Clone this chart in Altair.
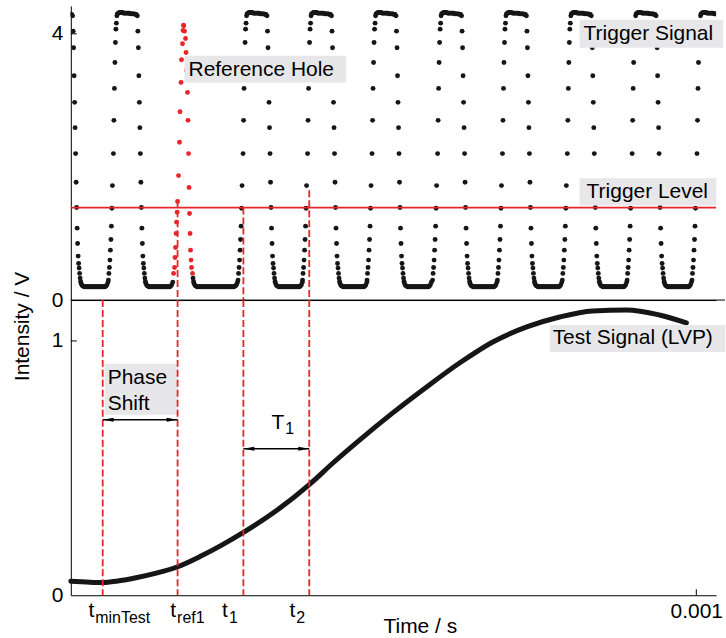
import altair as alt
import pandas as pd

FONT = "Liberation Sans"
INK = "#161616"
RED = "#e8262a"
BOXFILL = "#e7e7e9"

W = 647
H_TOP = 295
H_BOT = 296
X_MAX = 0.0010315          # s
Y_TOP_MAX = 4.42           # V
Y_BOT_MAX = 1.1608         # V
US = 1e-6

# ---------------- Trigger signal (top panel) ----------------
# start times (µs) of the flat top of every regular pulse
PULSE_TOPS_US = [-29.0, 74.5, 281.8, 384.9, 488.0, 592.8, 696.5, 800.2, 903.8, 1007.5]
PULSE_DT_US = [
    -14.4, -13.6, -12.8, -12.0, -11.2, -10.4, -9.6, -8.8, -8.0, -6.4, -5.6, -4.8, -4.0, -3.2, -2.4, -1.6, -0.8, 0.0,
    1.6, 3.2, 4.8, 6.4, 8.0, 9.6, 11.2, 12.8, 14.4, 16.0, 17.5, 19.1, 20.7, 22.3, 23.9, 25.5, 27.1, 28.7, 30.3,
    31.9, 32.7, 33.5, 34.3, 35.1, 35.9, 36.7, 37.5, 38.3, 39.1, 39.9, 40.7, 41.5, 42.3, 43.1, 43.9, 44.7, 45.5, 47.0,
    48.6, 50.2, 51.8, 53.4, 55.0, 56.6, 58.2, 59.8, 61.4, 63.0, 64.6, 66.2, 67.8, 69.4, 71.0, 72.6, 74.2, 75.8,
    77.4, 79.0, 80.6, 82.2, 83.8, 85.3, 86.9, 88.5,
]
PULSE_V = [
    0.30, 0.40, 0.49, 0.60, 0.75, 0.91, 1.11, 1.38, 1.72, 2.20, 2.70, 3.18, 3.57, 3.87, 4.07, 4.16, 4.27, 4.30,
    4.31, 4.32, 4.32, 4.32, 4.32, 4.31, 4.31, 4.31, 4.31, 4.31, 4.31, 4.31, 4.30, 4.30, 4.30, 4.30, 4.30, 4.29, 4.29,
    4.27, 4.04, 3.79, 3.37, 2.97, 2.59, 2.20, 1.77, 1.39, 1.08, 0.85, 0.66, 0.55, 0.48, 0.40, 0.33, 0.28, 0.25, 0.22,
    0.21, 0.20, 0.20, 0.20, 0.20, 0.20, 0.20, 0.20, 0.20, 0.20, 0.20, 0.20, 0.20, 0.20, 0.20, 0.20, 0.20, 0.20,
    0.20, 0.20, 0.20, 0.20, 0.20, 0.21, 0.23, 0.27,
]
# black low level after the reference hole (absolute µs, V)
HOLE_T_US = [
    195.4, 196.2, 197.0, 198.6, 200.2, 201.8, 203.4, 205.0, 206.6, 208.2, 209.8, 211.4, 213.0, 214.6, 216.2,
    217.8, 219.4, 221.0, 222.6, 224.2, 225.8, 227.4, 229.0, 230.6, 232.2, 233.8, 235.4, 237.0, 238.6, 240.2,
    241.8, 243.4, 245.0, 246.6, 248.2, 249.8, 251.4, 253.0, 254.6, 256.2, 257.8, 259.4, 261.0, 262.6, 264.0,
    265.4, 266.6,
]
HOLE_V = [
    0.33, 0.28, 0.25, 0.22, 0.21, 0.20, 0.20, 0.20, 0.20, 0.20, 0.20, 0.20, 0.20, 0.20, 0.20,
    0.20, 0.20, 0.20, 0.20, 0.20, 0.20, 0.20, 0.20, 0.20, 0.20, 0.20, 0.20, 0.20, 0.20, 0.20,
    0.20, 0.20, 0.20, 0.20, 0.20, 0.20, 0.20, 0.20, 0.20, 0.20, 0.20, 0.20, 0.20, 0.21, 0.22,
    0.24, 0.27,
]
# red reference-hole pulse
REF_T_US = [164.3, 165.9, 166.7, 167.5, 168.3, 169.1, 170.0, 170.7, 172.2, 173.8, 174.6, 176.2, 177.0, 178.6,
            179.4, 180.2, 180.6,
            181.8, 183.4, 184.2, 185.0, 186.6, 187.4, 188.2, 189.0, 189.8, 190.6, 191.4, 192.2, 193.0, 194.6]
REF_V = [0.40, 0.49, 0.64, 0.79, 1.00, 1.17, 1.32, 1.48, 1.87, 2.37, 2.83, 3.27, 3.61, 3.85,
         4.05, 4.13, 4.12,
         4.04, 3.93, 3.72, 3.45, 3.12, 2.70, 2.20, 1.69, 1.30, 1.00, 0.75, 0.60, 0.49, 0.40]
TRIGGER_LEVEL = 1.39

# ---------------- Test signal (bottom panel) ----------------
TEST_T_US = [0, 25, 51, 75, 100.5, 135, 170.7, 207.3, 242, 275.9, 330, 381.2, 420, 462.5, 515.2,
             569.4, 622.0, 674.6, 728.9, 781.5, 834.1, 888.3, 941.0, 984.1]
TEST_V = [0.055, 0.052, 0.050, 0.056, 0.067, 0.086, 0.112, 0.153, 0.198, 0.247, 0.335, 0.435, 0.522, 0.612,
          0.718, 0.820, 0.914, 0.996, 1.055, 1.094, 1.118, 1.122, 1.102, 1.071]

# ---------------- markers ----------------
MARKER_SUBS = ["minTest", "ref1", "1", "2"]
MARKER_T_US = [51.0, 170.7, 275.9, 381.2]
MARKER_TOP_START_V = [1.50, 1.39, 1.65]      # for ref1, 1, 2 in the top panel
MARKER_LABEL_T_US = [37.5, 168.3, 251.2, 358.9]

# ---------------- assemble tables ----------------
trig_t, trig_v = [], []
for top in PULSE_TOPS_US:
    for dt, v in zip(PULSE_DT_US, PULSE_V):
        trig_t.append((top + dt) * US)
        trig_v.append(v)
for t, v in zip(HOLE_T_US, HOLE_V):
    trig_t.append(t * US)
    trig_v.append(v)
trig_df = pd.DataFrame({"t": trig_t, "v": trig_v})
ref_df = pd.DataFrame({"t": [t * US for t in REF_T_US], "v": REF_V})
test_df = pd.DataFrame({"t": [t * US for t in TEST_T_US], "v": TEST_V})
one = pd.DataFrame({"a": [0]})

xscale = alt.Scale(domain=[0, X_MAX], nice=False, zero=False)
ys_top = alt.Scale(domain=[0, Y_TOP_MAX], nice=False, zero=False)
ys_bot = alt.Scale(domain=[0, Y_BOT_MAX], nice=False, zero=False)


def X(f="t"):
    return alt.X(f"{f}:Q", scale=xscale)


def YT(f="v"):
    return alt.Y(f"{f}:Q", scale=ys_top)


def YB(f="v"):
    return alt.Y(f"{f}:Q", scale=ys_bot)


txt = dict(font=FONT, fontSize=21, color="black")
DOT = 24

# ---------- top panel ----------
top_xaxis = alt.Axis(labels=False, ticks=False, title=None, grid=False, domainColor="black", domainWidth=1)
top_yaxis = alt.Axis(values=[0, 4], format="d", ticks=False, title=None, grid=False, labelPadding=8,
                     labelFontSize=21, labelFont=FONT, labelColor="black", domainColor="black", domainWidth=1,
                     labelFlush=False)

dots = alt.Chart(trig_df).mark_circle(size=DOT, color=INK, opacity=1, clip=True).encode(
    x=alt.X("t:Q", scale=xscale, axis=top_xaxis),
    y=alt.Y("v:Q", scale=ys_top, axis=top_yaxis),
)
red_dots = alt.Chart(ref_df).mark_circle(size=DOT, color=RED, opacity=1).encode(x=X(), y=YT())
level = alt.Chart(one).mark_rule(color=RED, strokeWidth=1.8).encode(y=alt.datum(TRIGGER_LEVEL))

top_boxes_df = pd.DataFrame({
    "x1": [181.8 * US, 813.4 * US, 813.4 * US],
    "x2": [440.2 * US, 1043.0 * US, 1031.9 * US],
    "y1": [3.27, 3.79, 1.42],
    "y2": [3.67, 4.21, 1.83],
})
top_boxes = alt.Chart(top_boxes_df).mark_rect(color=BOXFILL).encode(
    x=X("x1"), x2="x2", y=YT("y1"), y2="y2")
top_text_df = pd.DataFrame({
    "t": [188.2 * US, 819.8 * US, 824.6 * US],
    "v": [3.46, 4.00, 1.625],
    "label": ["Reference Hole", "Trigger Signal", "Trigger Level"],
})
top_text = alt.Chart(top_text_df).mark_text(align="left", baseline="middle", **txt).encode(
    x=X(), y=YT(), text="label:N")
dash_top_df = pd.DataFrame({"t": [t * US for t in MARKER_T_US[1:]], "y1": MARKER_TOP_START_V, "y0": [0, 0, 0]})
dash_top = alt.Chart(dash_top_df).mark_rule(color=RED, strokeWidth=1.8, strokeDash=[7, 3]).encode(
    x=X(), y=YT("y1"), y2="y0")
tick4 = alt.Chart(one).mark_rule(color="black", strokeWidth=1).encode(
    y=alt.datum(4), x=alt.value(0), x2=alt.value(6))
baseline_ext = alt.Chart(one).mark_rule(color="black", strokeWidth=1).encode(
    y=alt.datum(0), x=alt.value(0), x2=alt.value(W + 9))

top = alt.layer(dots, red_dots, level, top_boxes, top_text, dash_top, tick4, baseline_ext).properties(
    width=W, height=H_TOP)

# ---------- bottom panel ----------
bot_xaxis = alt.Axis(values=[0.001], format=".3f", ticks=False, grid=False, labelPadding=5, labelFontSize=21,
                     labelFont=FONT, labelColor="black", labelFlush=False, domainColor="black", domainWidth=1,
                     title="Time / s", titleFont=FONT, titleFontSize=21, titleFontWeight="normal",
                     titleColor="black", titleX=350, titleY=31, titleAlign="center", titleBaseline="middle")
bot_yaxis = alt.Axis(values=[0, 1], format="d", ticks=False, grid=False, labelPadding=8, labelFontSize=21,
                     labelFont=FONT, labelColor="black", labelFlush=False, domainColor="black", domainWidth=1,
                     title="Intensity / V", titleFont=FONT, titleFontSize=21, titleFontWeight="normal",
                     titleColor="black", titleAngle=270, titleX=-48, titleY=26, titleAlign="center",
                     titleBaseline="middle")

test_line = alt.Chart(test_df).mark_line(color=INK, strokeWidth=5, interpolate="monotone", strokeCap="round").encode(
    x=alt.X("t:Q", scale=xscale, axis=bot_xaxis),
    y=alt.Y("v:Q", scale=ys_bot, axis=bot_yaxis),
)
dash_bot_df = pd.DataFrame({"t": [t * US for t in MARKER_T_US], "y1": [Y_BOT_MAX] * 4, "y0": [0] * 4})
dash_bot = alt.Chart(dash_bot_df).mark_rule(color=RED, strokeWidth=1.8, strokeDash=[7, 3]).encode(
    x=X(), y=YB("y1"), y2="y0")

bot_boxes_df = pd.DataFrame({
    "x1": [54.2 * US, 765.6 * US],
    "x2": [170.7 * US, 1046.3 * US],
    "y1": [0.71, 0.957],
    "y2": [0.91, 1.063],
})
bot_boxes = alt.Chart(bot_boxes_df).mark_rect(color=BOXFILL).encode(
    x=X("x1"), x2="x2", y=YB("y1"), y2="y2")
bot_text_df = pd.DataFrame({
    "t": [59.0 * US, 59.0 * US, 770.3 * US],
    "v": [0.855, 0.753, 1.01],
    "label": ["Phase", "Shift", "Test Signal (LVP)"],
})
bot_text = alt.Chart(bot_text_df).mark_text(align="left", baseline="middle", **txt).encode(
    x=X(), y=YB(), text="label:N")

arrow_df = pd.DataFrame({
    "x1": [MARKER_T_US[0] * US, MARKER_T_US[2] * US],
    "x2": [MARKER_T_US[1] * US, MARKER_T_US[3] * US],
    "v": [0.69, 0.576],
})
arrow_lines = alt.Chart(arrow_df).mark_rule(color="black", strokeWidth=1.5).encode(
    x=X("x1"), x2="x2", y=YB())
head_l = alt.Chart(arrow_df).mark_point(shape="M -1 0 L 1 -0.38 L 1 0.38 Z", filled=True, size=120,
                                        color="black", opacity=1, xOffset=5.5).encode(x=X("x1"), y=YB())
head_r = alt.Chart(arrow_df).mark_point(shape="M 1 0 L -1 -0.38 L -1 0.38 Z", filled=True, size=120,
                                        color="black", opacity=1, xOffset=-5.5).encode(x=X("x2"), y=YB())

t1_df = pd.DataFrame({"t": [341.3 * US], "v": [0.655], "v2": [0.633]})
t1_main = alt.Chart(t1_df).mark_text(text="T", align="right", baseline="alphabetic", **txt).encode(
    x=X(), y=YB())
t1_sub = alt.Chart(t1_df).mark_text(text="1", align="left", baseline="alphabetic", dx=1, font=FONT,
                                    fontSize=16, color="black").encode(x=X(), y=YB("v2"))

lab_df = pd.DataFrame({"t": [t * US for t in MARKER_LABEL_T_US], "sub": MARKER_SUBS})
lab_main = alt.Chart(lab_df).mark_text(text="t", align="right", baseline="alphabetic", **txt).encode(
    x=X(), y=alt.value(H_BOT + 22))
lab_sub = alt.Chart(lab_df).mark_text(align="left", baseline="alphabetic", dx=1, font=FONT, fontSize=16,
                                      color="black").encode(x=X(), y=alt.value(H_BOT + 28), text="sub:N")

tick1 = alt.Chart(one).mark_rule(color="black", strokeWidth=1).encode(
    y=alt.datum(1), x=alt.value(0), x2=alt.value(6))
tickx = alt.Chart(one).mark_rule(color="black", strokeWidth=1).encode(
    x=alt.datum(0.001), y=alt.value(H_BOT), y2=alt.value(H_BOT - 6))

bottom = alt.layer(test_line, bot_boxes, bot_text, dash_bot, arrow_lines, head_l, head_r,
                   t1_main, t1_sub, lab_main, lab_sub, tick1, tickx).properties(width=W, height=H_BOT)

chart = alt.vconcat(top, bottom, spacing=0, bounds="flush").properties(
    padding={"left": 12, "top": 5, "right": 0, "bottom": 0}
).configure_view(stroke=None)

chart.save("out.html", embed_options={"renderer": "svg", "actions": False})
